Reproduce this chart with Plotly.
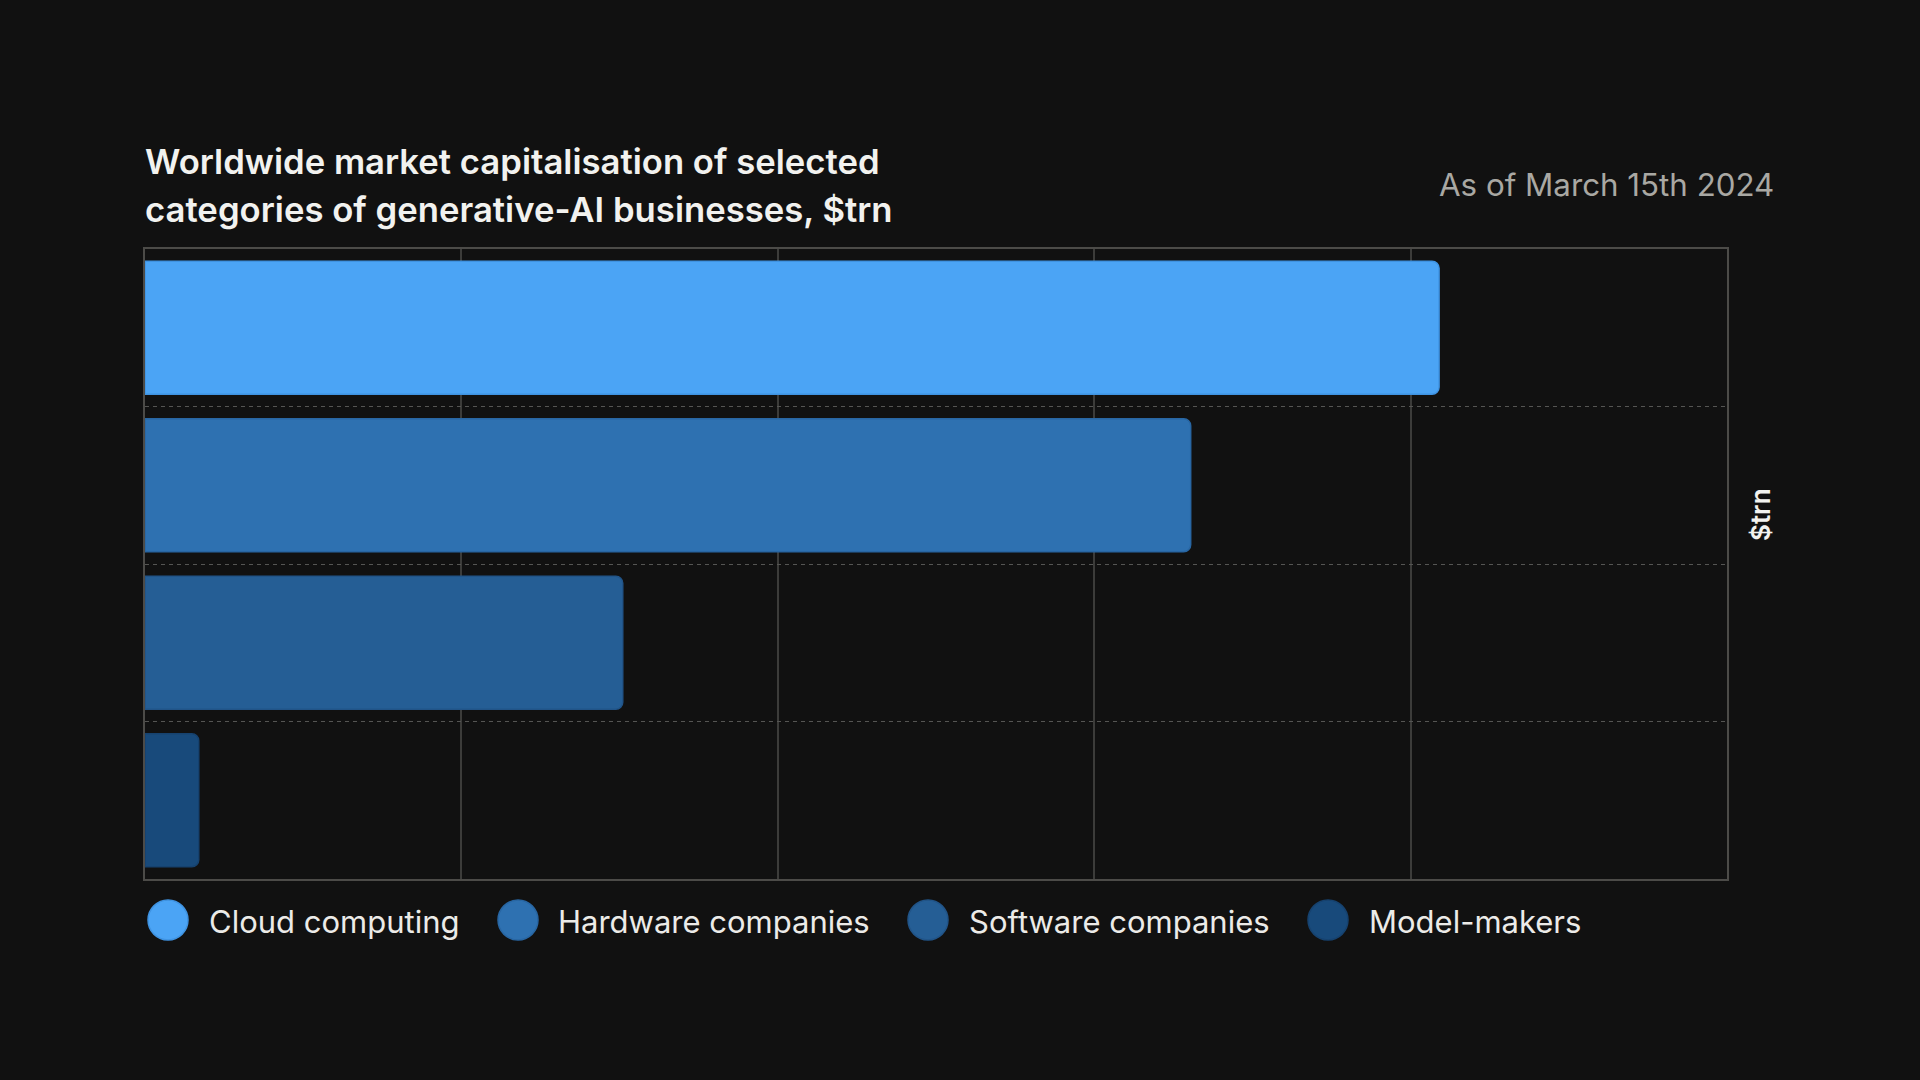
import plotly.graph_objects as go

# ---- data ----
categories = ["Cloud computing", "Hardware companies", "Software companies", "Model-makers"]
values = [8.18, 6.61, 3.02, 0.34]          # $trn
fill_colors = ["#4ba4f5", "#2e71b1", "#255e95", "#184a7b"]
edge_colors = ["#3f93e2", "#2866a3", "#215488", "#16426f"]

title_lines = ["Worldwide market capitalisation of selected",
               "categories of generative-AI businesses, $trn"]
date_note = "As of March 15th 2024"
unit_label = "$trn"

# ---- layout constants (pixels) ----
WIDTH, HEIGHT = 1920, 1080
L, R, T, B = 145, 193, 249, 201
PW, PH = WIDTH - L - R, HEIGHT - T - B
FONT = "Inter"
BG = "#111111"


def px2x(px):
    return (px - L) / PW


def py2y(py):
    return (HEIGHT - B - py) / PH


fig = go.Figure()
for cat, val, fc, ec in zip(categories, values, fill_colors, edge_colors):
    fig.add_bar(
        x=[val], y=[cat], orientation="h", name=cat, width=0.845,
        marker=dict(color=fc, line=dict(color=ec, width=1.5)),
        showlegend=False, hoverinfo="x+name",
    )

annotations = []
# title
for i, line in enumerate(title_lines):
    annotations.append(dict(
        text=line, xref="paper", yref="paper", x=px2x(143), y=py2y(161 + 48 * i),
        xanchor="left", yanchor="middle", showarrow=False,
        font=dict(family=FONT, size=34.7, color="#f2f2ef", weight=600)))
# date note
annotations.append(dict(
    text=date_note, xref="paper", yref="paper", x=px2x(1776), y=py2y(185),
    xanchor="right", yanchor="middle", showarrow=False,
    font=dict(family=FONT, size=31.3, color="#a9a8a3")))
# unit label
annotations.append(dict(
    text=unit_label, xref="paper", yref="paper", x=px2x(1760), y=py2y(515),
    xanchor="center", yanchor="middle", showarrow=False, textangle=-90,
    font=dict(family=FONT, size=26, color="#f2f2ef", weight=600)))

# custom legend with large circles
legend_cx = [168, 518, 928, 1328]
legend_tx = [207, 556, 967, 1367]
legend_cy = 920
shapes = []
for cat, fc, ec, cx, tx in zip(categories, fill_colors, edge_colors, legend_cx, legend_tx):
    shapes.append(dict(
        type="circle", xref="paper", yref="paper", xsizemode="pixel", ysizemode="pixel",
        xanchor=px2x(cx), yanchor=py2y(legend_cy), x0=-20, x1=20, y0=-20, y1=20,
        fillcolor=fc, line=dict(color=ec, width=1.5)))
    annotations.append(dict(
        text=cat, xref="paper", yref="paper", x=px2x(tx), y=py2y(legend_cy + 1),
        xanchor="left", yanchor="middle", showarrow=False,
        font=dict(family=FONT, size=31, color="#ecebe8")))

fig.update_layout(
    width=WIDTH, height=HEIGHT,
    margin=dict(l=L, r=R, t=T, b=B, pad=0),
    paper_bgcolor=BG, plot_bgcolor=BG,
    barmode="overlay", barcornerradius=7,
    showlegend=False,
    annotations=annotations, shapes=shapes,
    xaxis=dict(range=[0, 10], dtick=2, showticklabels=False, ticks="",
               showgrid=True, gridcolor="#3c3c3a", gridwidth=1.5, zeroline=False,
               showline=True, mirror=True, linecolor="#4c4b48", linewidth=2),
    yaxis=dict(type="category", categoryorder="array", categoryarray=categories,
               autorange="reversed", tickson="boundaries", ticks="", showticklabels=False,
               showgrid=True, gridcolor="#555553", gridwidth=1, griddash="4px,4px",
               zeroline=False,
               showline=True, mirror=True, linecolor="#4c4b48", linewidth=2),
)

fig.write_html("out.html", config={"displayModeBar": False},
               post_script="document.body.style.margin='0';document.body.style.overflow='hidden';")
